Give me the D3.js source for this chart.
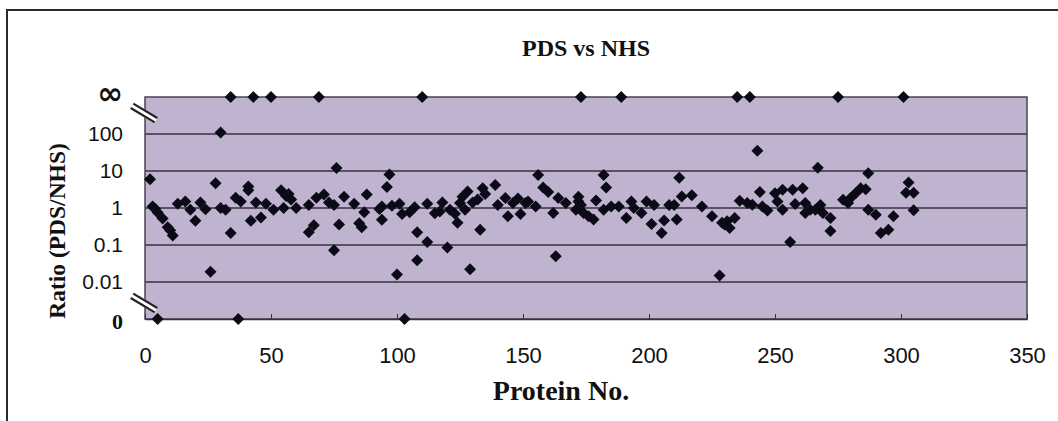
<!DOCTYPE html>
<html>
<head>
<meta charset="utf-8">
<script src="https://cdn.jsdelivr.net/npm/d3@7"></script>
<style>
  body { margin: 0; background: #fff; }
  svg { display: block; }
</style>
</head>
<body>
<div id="chart"></div>
<script>
// protein number and PDS/NHS ratio (0 and Infinity sit on the broken ends of the axis)
var proteinNo = [2, 3, 4, 5, 5, 7, 9, 10, 11, 13, 16, 18, 20, 22, 24, 26, 28, 30, 30, 32, 34, 34, 36, 37, 38, 41, 41, 42, 43, 44, 46, 48, 50, 51, 54, 55, 56,
  57, 58, 60, 65, 65, 67, 68, 69, 71, 73, 75, 75, 76, 77, 79, 83, 85, 86, 87, 88, 93, 94, 94, 96, 97, 98, 100, 101, 102, 103, 105, 107, 108, 108, 110, 112, 112, 115,
  117, 118, 120, 121, 123, 124, 125, 126, 127, 128, 129, 130, 132, 133, 134, 135, 139, 140, 143, 144, 146, 148, 149, 151, 152, 155, 156, 158, 160, 162, 163, 164, 167, 171, 172,
  172, 173, 173, 174, 176, 178, 179, 182, 182, 183, 185, 188, 189, 191, 193, 194, 197, 199, 201, 202, 205, 206, 208, 210, 211, 212, 213, 217, 221, 225, 228, 229,
  230, 231, 232, 234, 235, 236, 239, 240, 241, 243, 244, 245, 247, 250, 251, 253, 253, 256, 257, 258, 261, 262, 262, 264, 266, 267, 268, 269, 272, 272, 275, 277, 279, 280, 282, 284,
  286, 287, 287, 290, 292, 295, 297, 301, 302, 303, 305, 305];
var ratio = [6, 1.1, 0.96, 0.75, 0, 0.52, 0.3, 0.25, 0.18, 1.3, 1.5, 0.9, 0.45, 1.4, 0.92, 0.019, 4.7, 1, 110, 0.9, 0.21, Infinity, 1.9, 0, 1.5, 3.8, 3, 0.45, Infinity, 1.4, 0.55, 1.3, Infinity, 0.9, 3, 1, 2.1,
  2.4, 1.7, 1, 0.22, 1.2, 0.34, 1.9, Infinity, 2.3, 1.4, 1.2, 0.072, 12, 0.36, 2, 1.3, 0.39, 0.3, 0.77, 2.3, 0.94, 1.1, 0.48, 3.7, 8, 1.15, 0.016, 1.3, 0.69, 0, 0.77, 1.04, 0.039, 0.22, Infinity, 0.12, 1.3, 0.72,
  0.8, 1.4, 0.085, 0.9, 0.7, 0.4, 1.36, 2, 0.9, 2.8, 0.022, 1.4, 1.7, 0.26, 3.4, 2.4, 4.2, 1.2, 1.85, 0.6, 1.36, 1.8, 0.69, 1.36, 1.5, 1.1, 7.8, 3.6, 2.7, 0.73, 0.05, 1.85, 1.36, 0.9, 1.5,
  2, 1.2, Infinity, 0.73, 0.6, 0.49, 1.6, 0.9, 7.8, 3.6, 1.1, 1.1, Infinity, 0.54, 1.5, 1, 0.73, 1.5, 0.37, 1.2, 0.21, 0.46, 1.2, 1.2, 0.49, 6.6, 2.05, 2.2, 1.1, 0.6, 0.015, 0.4,
  0.36, 0.44, 0.29, 0.54, Infinity, 1.57, 1.36, Infinity, 1.23, 35, 2.7, 1.1, 0.85, 2.5, 1.5, 0.9, 3.1, 0.12, 3.1, 1.28, 3.4, 1.36, 0.73, 0.9, 0.9, 12.3, 1.2, 0.73, 0.54, 0.24, Infinity, 1.67, 1.36, 1.85, 2.5, 3.4,
  3.2, 0.9, 8.7, 0.66, 0.21, 0.26, 0.6, Infinity, 2.6, 4.9, 0.87, 2.6];

var xTicks = [0, 50, 100, 150, 200, 250, 300, 350];
var yTickValues = [0, 0.01, 0.1, 1, 10, 100, Infinity];
var yTickLabels = ["0", "0.01", "0.1", "1", "10", "100", "\u221E"];

var width = 1058, height = 421;
var plotLeft = 145, plotRight = 1027, plotTop = 97, plotBottom = 319;

// 0 and infinity get their own decade at each end of the log axis
function ratioPos(v) {
  if (v === 0) return 0.001;
  if (v === Infinity) return 1000;
  return v;
}

var svg = d3.select("#chart").append("svg")
  .attr("width", width)
  .attr("height", height);

// outer frame (top and left edges of the scanned box)
svg.append("path")
  .attr("d", "M7,421 L7,10 L1058,10")
  .attr("fill", "none")
  .attr("stroke", "#2a2a2a")
  .attr("stroke-width", 2);

var x = d3.scaleLinear().domain([0, 350]).range([plotLeft, plotRight]);
var y = d3.scaleLog().domain([0.001, 1000]).range([plotBottom, plotTop]);

svg.append("rect")
  .attr("x", plotLeft).attr("y", plotTop)
  .attr("width", plotRight - plotLeft).attr("height", plotBottom - plotTop)
  .attr("fill", "#bfb3cf");

// horizontal grid lines
svg.append("g")
  .selectAll("line")
  .data(yTickValues.slice(1, -1))
  .enter()
  .append("line")
    .attr("x1", plotLeft).attr("x2", plotRight)
    .attr("y1", function(d) { return y(ratioPos(d)); })
    .attr("y2", function(d) { return y(ratioPos(d)); })
    .attr("stroke", "#3e2f40")
    .attr("stroke-width", 1.4);

svg.append("rect")
  .attr("x", plotLeft).attr("y", plotTop)
  .attr("width", plotRight - plotLeft).attr("height", plotBottom - plotTop)
  .attr("fill", "none")
  .attr("stroke", "#4a4450")
  .attr("stroke-width", 1.5);

// x axis: small inside ticks, labels below
var xAxis = svg.append("g")
  .attr("transform", "translate(0," + plotBottom + ")")
  .call(d3.axisBottom(x).tickValues(xTicks).tickSizeInner(-5).tickSizeOuter(0).tickPadding(28));
xAxis.select(".domain").attr("stroke", "#333").attr("stroke-width", 1.5);
xAxis.selectAll(".tick line").attr("stroke", "#333");
xAxis.selectAll("text")
  .attr("font-family", "Liberation Sans, Arial, sans-serif")
  .attr("font-size", 22)
  .attr("fill", "#111");

// y axis labels
var yAxis = svg.append("g")
  .attr("transform", "translate(" + plotLeft + ",0)")
  .call(d3.axisLeft(y)
    .tickValues(yTickValues.map(ratioPos))
    .tickFormat(function(d, i) { return yTickLabels[i]; })
    .tickSize(0).tickPadding(22));
yAxis.select(".domain").remove();
yAxis.selectAll("text")
  .attr("font-family", "Liberation Sans, Arial, sans-serif")
  .attr("font-size", 21)
  .attr("fill", "#111");
yAxis.selectAll("text")
  .filter(function(d, i) { return i === 0; })
  .attr("font-family", "Liberation Serif, Times New Roman, serif")
  .attr("font-weight", "bold")
  .attr("font-size", 22)
  .attr("dy", "0.45em");
yAxis.selectAll("text")
  .filter(function(d, i) { return i === yTickLabels.length - 1; })
  .attr("font-family", "DejaVu Sans, sans-serif")
  .attr("font-weight", "bold")
  .attr("font-size", 31)
  .attr("dy", "0.2em");

// axis break marks
[113, 303].forEach(function(cy) {
  var g = svg.append("g").attr("transform", "translate(" + (plotLeft - 1) + "," + cy + ") rotate(31)");
  g.append("rect").attr("x", -14).attr("y", -3.5).attr("width", 28).attr("height", 7).attr("fill", "#fff");
  g.append("line").attr("x1", -14).attr("x2", 14).attr("y1", -2.5).attr("y2", -2.5).attr("stroke", "#222").attr("stroke-width", 2.2);
  g.append("line").attr("x1", -14).attr("x2", 14).attr("y1", 2.5).attr("y2", 2.5).attr("stroke", "#222").attr("stroke-width", 2.2);
});

// points
var diamond = d3.symbol().type(d3.symbolSquare).size(72);
svg.append("g")
  .selectAll("path")
  .data(proteinNo)
  .enter()
  .append("path")
    .attr("d", diamond)
    .attr("transform", function(d, i) {
      return "translate(" + x(d) + "," + y(ratioPos(ratio[i])) + ") rotate(45)";
    })
    .attr("fill", "#0b0b18");

svg.append("text")
  .attr("x", (plotLeft + plotRight) / 2).attr("y", 56)
  .attr("text-anchor", "middle")
  .attr("font-family", "Liberation Serif, Times New Roman, serif")
  .attr("font-weight", "bold")
  .attr("font-size", 24)
  .attr("fill", "#111")
  .text("PDS vs NHS");

svg.append("text")
  .attr("x", 561).attr("y", 400)
  .attr("text-anchor", "middle")
  .attr("font-family", "Liberation Serif, Times New Roman, serif")
  .attr("font-weight", "bold")
  .attr("font-size", 28)
  .attr("fill", "#111")
  .text("Protein No.");

svg.append("text")
  .attr("transform", "translate(65,231) rotate(-90)")
  .attr("text-anchor", "middle")
  .attr("font-family", "Liberation Serif, Times New Roman, serif")
  .attr("font-weight", "bold")
  .attr("font-size", 23.5)
  .attr("fill", "#111")
  .text("Ratio (PDS/NHS)");
</script>
</body>
</html>
